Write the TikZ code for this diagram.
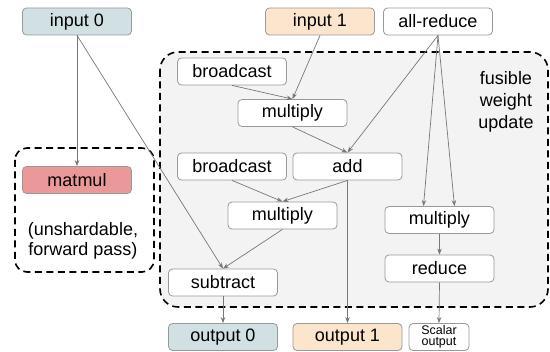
\documentclass[tikz,border=0pt]{standalone}
\usepackage{fontspec}
\setmainfont{Liberation Sans}
\usetikzlibrary{arrows.meta}
\definecolor{inblue}{HTML}{D0E0E3}
\definecolor{inpeach}{HTML}{FCE5CD}
\definecolor{matred}{HTML}{EA9999}
\definecolor{boxline}{HTML}{999999}
\definecolor{edgegray}{HTML}{777777}
\definecolor{regionfill}{HTML}{F3F3F3}
\begin{document}
\begin{tikzpicture}[x=1pt,y=-1pt,
  op/.style={draw=boxline, line width=0.8pt, rounded corners=4pt, fill=white,
    minimum width=109pt, minimum height=27pt, inner sep=0pt,
    font=\fontsize{18}{20}\selectfont},
  flow/.style={draw=edgegray, line width=0.7pt, -{Stealth[length=6pt,width=4.5pt]}},
  region/.style={draw=black, line width=1.6pt, dash pattern=on 7pt off 4.5pt},
  note/.style={align=center, font=\fontsize{18}{21}\selectfont}]
\useasboundingbox (0,0) rectangle (550,352);

% grouping regions
\draw[region, fill=regionfill, rounded corners=18pt] (160,52) rectangle (548,307);
\draw[region, rounded corners=12pt] (15,148) rectangle (154,272);
\node[note, font=\fontsize{18}{22}\selectfont] (fwu) at (506,102) {fusible\\weight\\update};
\node[note, font=\fontsize{18}{20.5}\selectfont] (fwd) at (83,241) {(unshardable,\\forward pass)};

% operations
\node[op, fill=inblue]   (in0) at (77,21.5)  {input 0};
\node[op, fill=inpeach]  (in1) at (320,21.5) {input 1};
\node[op]                (ar)  at (438,21.5) {all-reduce};
\node[op, fill=matred]   (mm)  at (77,180)   {matmul};
\node[op]                (bc1) at (232,71.5) {broadcast};
\node[op]                (mu1) at (292.5,113) {multiply};
\node[op]                (bc2) at (232,166.5) {broadcast};
\node[op]                (add) at (347.5,166.5) {add};
\node[op]                (mu2) at (282.5,215.5) {multiply};
\node[op]                (sub) at (223,282.5) {subtract};
\node[op]                (mu3) at (439.5,220) {multiply};
\node[op]                (red) at (439.5,268.5) {reduce};
\node[op, fill=inblue]   (out0) at (223,337) {output 0};
\node[op, fill=inpeach]  (out1) at (347.5,337) {output 1};
\node[op, minimum width=60pt, align=center,
      font=\fontsize{12.5}{11}\selectfont] (sc) at (439,337) {Scalar\\output};

% data flow
\draw[flow] (in0.south) -- (mm.north);
\draw[flow] (in0.south) -- (sub.north);
\draw[flow] (in1.south) -- (mu1.north);
\draw[flow] (bc1.south) -- (mu1.north);
\draw[flow] (mu1.south) -- (add.north);
\draw[flow] (ar.south) -- (add.north);
\draw[flow] (ar.south) -- ([xshift=-16pt]mu3.north);
\draw[flow] (ar.south) -- ([xshift=15pt]mu3.north);
\draw[flow] (bc2.south) -- (mu2.north);
\draw[flow] (add.south) -- (mu2.north);
\draw[flow] (add.south) -- (out1.north);
\draw[flow] (mu2.south) -- (sub.north);
\draw[flow] (sub.south) -- (out0.north);
\draw[flow] (mu3.south) -- (red.north);
\draw[flow] (red.south) -- (sc.north);
\end{tikzpicture}
\end{document}
